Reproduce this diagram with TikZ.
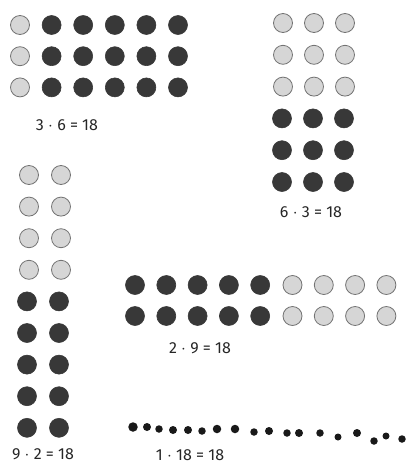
\documentclass[tikz,border=0pt]{standalone}
\usepackage{fontspec}
\setsansfont{Fira Sans}
\usepackage{tikz}
\tikzset{
  dot-light/.style={circle, draw=black!55, fill=black!16, line width=0.8pt, minimum size=19pt, inner sep=0pt},
  dot-dark/.style={circle, draw=black!78, fill=black!78, line width=0.6pt, minimum size=19pt, inner sep=0pt},
  dot-tiny/.style={circle, fill=black!90, inner sep=0pt},
  count-label/.style={font=\sffamily\fontsize{16}{16}\selectfont, text=black!85, inner sep=1pt}
}
\begin{document}
\begin{tikzpicture}[x=1pt, y=-1pt]
  \useasboundingbox (0,0) rectangle (408,464);

  % 3 rows, 6 columns
  \foreach \r in {0,...,2} {
    \node[dot-light] (a-\r-0) at (20,{25+31.2*\r}) {};
    \foreach \c in {1,...,5} {
      \node[dot-dark] (a-\r-\c) at ({20+31.6*\c},{25+31.2*\r}) {};
    }
  }
  \node[count-label] (la) at (67,125) {3 $\cdot$ 6 = 18};

  % 6 rows, 3 columns
  \foreach \c in {0,...,2} {
    \foreach \r in {0,...,2} {
      \node[dot-light] (b-\r-\c) at ({283+31*\c},{23+31.8*\r}) {};
    }
    \foreach \r in {3,...,5} {
      \node[dot-dark] (b-\r-\c) at ({282+31*\c},{23+31.8*\r}) {};
    }
  }
  \node[count-label] (lb) at (311,212) {6 $\cdot$ 3 = 18};

  % 9 rows, 2 columns
  \foreach \c in {0,1} {
    \foreach \r in {0,...,3} {
      \node[dot-light] (c-\r-\c) at ({29+32*\c},{175+31.6*\r}) {};
    }
    \foreach \r in {4,...,8} {
      \node[dot-dark] (c-\r-\c) at ({27+32*\c},{175+31.6*\r}) {};
    }
  }
  \node[count-label] (lc) at (43,454) {9 $\cdot$ 2 = 18};

  % 2 rows, 9 columns
  \foreach \r in {0,1} {
    \foreach \c in {0,...,4} {
      \node[dot-dark] (d-\r-\c) at ({135+31.3*\c},{285+31*\r}) {};
    }
    \foreach \c in {5,...,8} {
      \node[dot-light] (d-\r-\c) at ({136+31.3*\c},{285+31*\r}) {};
    }
  }
  \node[count-label] (ld) at (200,348) {2 $\cdot$ 9 = 18};

  % 1 row, 18 dots (hand placed)
  \foreach \x/\y/\s [count=\i] in {133/427/9.5, 147/427/8, 159/429/7.5, 173/430/8, 188/430/8,
      202/431/7.5, 217/429/8.5, 235/429/8.5, 254/432/7.5, 269/431/8, 287/433/7.5, 299/433/8,
      320/433/7.5, 338/437/7, 357/433/8, 374/441/7.5, 386/436/7, 402/439/7.5} {
    \node[dot-tiny, minimum size=\s pt] (e-\i) at (\x,\y) {};
  }
  \node[count-label] (le) at (190,455) {1 $\cdot$ 18 = 18};
\end{tikzpicture}
\end{document}
